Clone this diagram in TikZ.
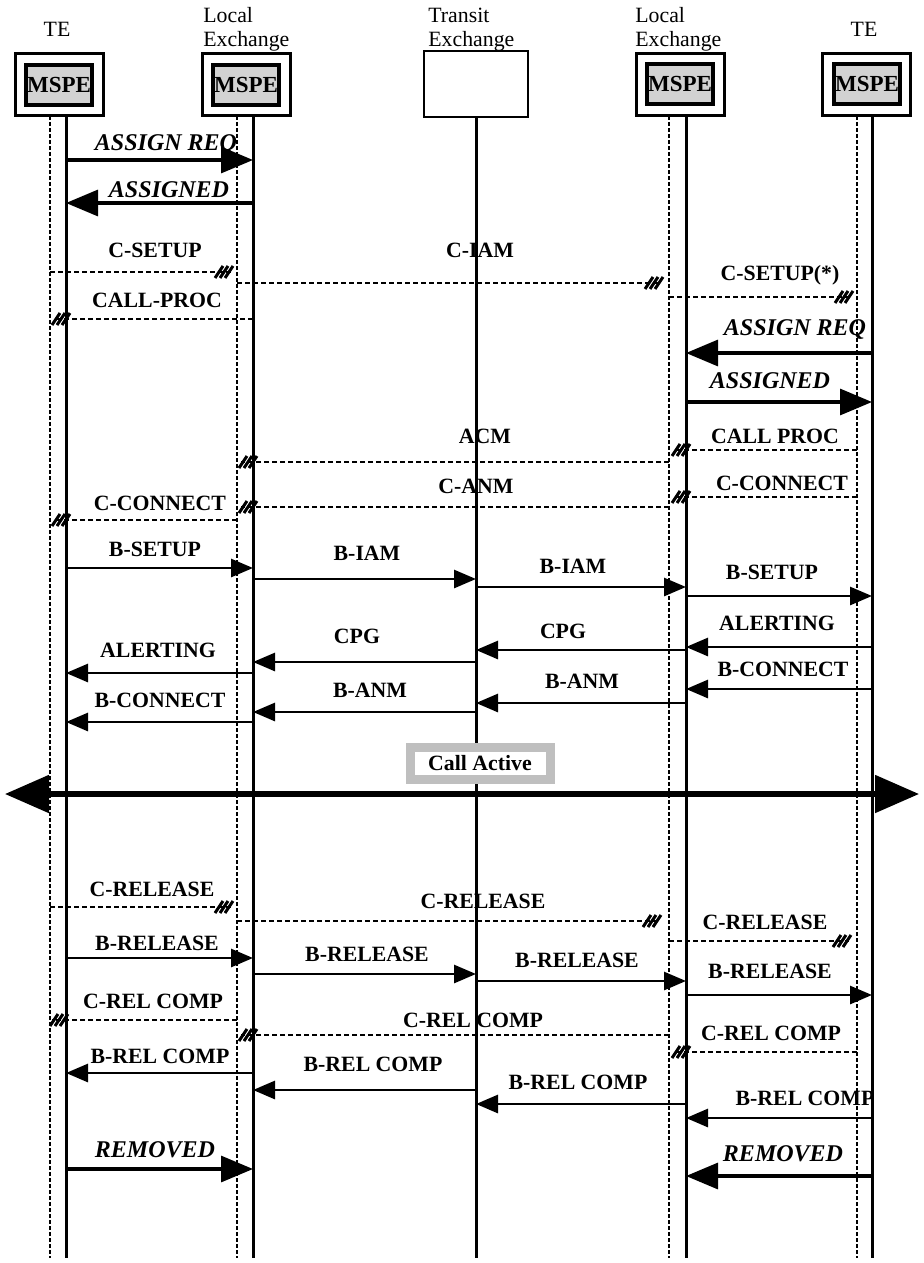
\documentclass[tikz,border=0pt]{standalone}
\usepackage{fontspec}
\setmainfont{Liberation Serif}
\usetikzlibrary{arrows.meta,calc,decorations.markings}

\begin{document}
\begin{tikzpicture}[x=0.5pt,y=-0.5pt,
  every node/.style={font=\fontsize{10.9}{12}\selectfont\bfseries},
  hdr/.style={font=\fontsize{10.9}{12}\selectfont,inner sep=0pt,align=left,anchor=north west},
  host/.style={draw,line width=1.5pt,fill=white,minimum width=44pt,minimum height=31pt,inner sep=0pt},
  mspe/.style={draw,line width=1.6pt,fill=gray!35,minimum width=33pt,minimum height=20pt,inner sep=0pt,font=\fontsize{11.5}{12}\selectfont\bfseries},
  lifedash/.style={line width=1.3pt,dash pattern=on 2pt off 1pt},
  life/.style={line width=1.5pt},
  msg/.style={line width=1.4pt,-{Triangle[length=11pt,width=9pt]}},
  amsg/.style={line width=1.6pt,-{Triangle[length=16pt,width=13pt]}},
  cmsg/.style={line width=1.2pt,dash pattern=on 2.5pt off 1.5pt,postaction={decorate},
    decoration={markings,mark=at position 1 with {\foreach \hh in {-12,-7,-2} \draw[solid,line width=1.5pt] (\hh-4,6) -- (\hh+4,-6);}}},
  lbl/.style={anchor=base,inner sep=0pt},
  ilbl/.style={lbl,font=\fontsize{12}{13}\selectfont\bfseries\itshape}]
  \useasboundingbox (0,0) rectangle (923,1263);

  \node[hdr,anchor=base] (hteA) at (57,37) {TE};
  \node[hdr] (hleA) at (203,7) {Local\\Exchange};
  \node[hdr] (htx) at (428,8) {Transit\\Exchange};
  \node[hdr] (hleB) at (635,7) {Local\\Exchange};
  \node[hdr,anchor=base] (hteB) at (864,37) {TE};

  \node[host] (teA) at (59,85) {}; \node[mspe] (mA) at (59,85) {MSPE};
  \node[host] (leA) at (246,85) {}; \node[mspe] (mB) at (246,85) {MSPE};
  \node[host,line width=1pt,minimum width=52pt,minimum height=33pt] (tx) at (476,84) {};
  \node[host] (leB) at (680,85) {}; \node[mspe] (mC) at (680,84) {MSPE};
  \node[host] (teB) at (866,85) {}; \node[mspe] (mD) at (867,84) {MSPE};

  \coordinate (teAd) at (50,116); \coordinate (teAs) at (66,116);
  \coordinate (leAd) at (237,116); \coordinate (leAs) at (253,116);
  \coordinate (txs) at (476,117);
  \coordinate (leBd) at (669,116); \coordinate (leBs) at (686,116);
  \coordinate (teBd) at (857,116); \coordinate (teBs) at (872,116);
  \foreach \c in {teAd,leAd,leBd,teBd} \draw[lifedash] (\c) -- (\c |- 0,1258);
  \foreach \c in {teAs,leAs,txs,leBs,teBs} \draw[life] (\c) -- (\c |- 0,1258);

  \foreach \y/\a/\b/\lx/\ly/\t [count=\n] in {160/teAs/leAs/166/150/ASSIGN REQ, 203/leAs/teAs/169/197/ASSIGNED,
      353/teBs/leBs/795/335/ASSIGN REQ, 402/leBs/teBs/770/388/ASSIGNED,
      1169/teAs/leAs/155/1157/REMOVED, 1176/teBs/leBs/783/1161/REMOVED} {
    \draw[amsg] (\a |- 0,\y) -- (\b |- 0,\y);
    \node[ilbl] (a\n) at (\lx,\ly) {\t};
  }

  \foreach \y/\a/\b/\s/\lx/\ly/\t [count=\n] in {272/teAd/leAd/-6/155/257/C-SETUP, 283/leAd/leBd/-8/480/257/C-IAM,
      297/leBd/teBd/-6/780/280/C-SETUP(*), 319/leAs/teAs/-12/157/307/CALL-PROC,
      450/teBd/leBs/-12/775/443/CALL PROC, 462/leBd/leAs/-12/485/443/ACM,
      497/teBd/leBs/-12/782/490/C-CONNECT, 507/leBd/leAs/-12/476/493/C-ANM,
      520/leAd/teAs/-12/160/510/C-CONNECT, 907/teAd/leAd/-6/152/896/C-RELEASE,
      921/leAd/leBd/-10/483/908/C-RELEASE, 941/leBd/teBd/-8/765/929/C-RELEASE,
      1020/leAd/teAs/-14/153/1008/C-REL COMP, 1035/leBd/leAs/-12/473/1027/C-REL COMP,
      1052/teBd/leBs/-12/771/1040/C-REL COMP} {
    \draw[cmsg] (\a |- 0,\y) -- ($(\b |- 0,\y)+(\s,0)$);
    \node[lbl] (c\n) at (\lx,\ly) {\t};
  }

  \foreach \y/\a/\b/\lx/\ly/\t [count=\n] in {568/teAs/leAs/155/556/B-SETUP, 579/leAs/txs/367/560/B-IAM,
      587/txs/leBs/573/573/B-IAM, 596/leBs/teBs/772/579/B-SETUP,
      647/teBs/leBs/777/630/ALERTING, 650/leBs/txs/563/638/CPG,
      662/txs/leAs/357/643/CPG, 673/leAs/teAs/158/657/ALERTING,
      689/teBs/leBs/783/676/B-CONNECT, 703/leBs/txs/582/688/B-ANM,
      712/txs/leAs/370/697/B-ANM, 722/leAs/teAs/160/707/B-CONNECT,
      958/teAs/leAs/157/950/B-RELEASE, 974/leAs/txs/367/961/B-RELEASE,
      981/txs/leBs/577/967/B-RELEASE, 995/leBs/teBs/770/978/B-RELEASE,
      1073/leAs/teAs/160/1063/B-REL COMP, 1090/txs/leAs/373/1071/B-REL COMP,
      1104/leBs/txs/578/1089/B-REL COMP, 1118/teBs/leBs/805/1105/B-REL COMP} {
    \draw[msg] (\a |- 0,\y) -- (\b |- 0,\y);
    \node[lbl] (b\n) at (\lx,\ly) {\t};
  }

  \coordinate (barL) at (5,794); \coordinate (barR) at (919,794);
  \draw[line width=2.6pt,{Triangle[length=22pt,width=18.5pt]}-{Triangle[length=22pt,width=18.5pt]}] (barL) -- (barR);
  \node[draw=gray!50,line width=4.5pt,fill=white,minimum width=70pt,minimum height=16pt,inner sep=0pt] (active) at (480,763) {Call Active};
\end{tikzpicture}
\end{document}
